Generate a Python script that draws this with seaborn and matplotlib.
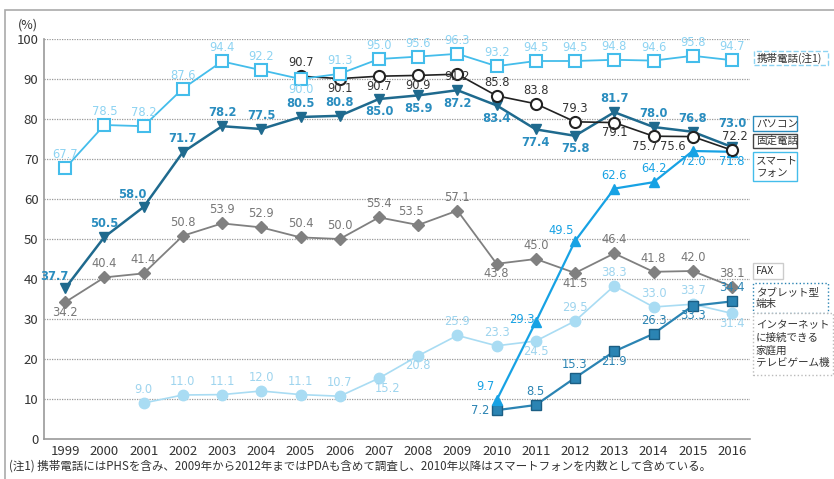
import numpy as np
import pandas as pd
import matplotlib
matplotlib.use("Agg")
import matplotlib.pyplot as plt
import seaborn as sns
from matplotlib.patches import Rectangle

# ---------------- data ----------------
years = list(range(1999, 2017))
mobile = [67.7, 78.5, 78.2, 87.6, 94.4, 92.2, 90.0, 91.3, 95.0, 95.6, 96.3, 93.2, 94.5, 94.5, 94.8, 94.6, 95.8, 94.7]
pc = [37.7, 50.5, 58.0, 71.7, 78.2, 77.5, 80.5, 80.8, 85.0, 85.9, 87.2, 83.4, 77.4, 75.8, 81.7, 78.0, 76.8, 73.0]
fixed_years = list(range(2005, 2017))
fixed = [90.7, 90.1, 90.7, 90.9, 91.2, 85.8, 83.8, 79.3, 79.1, 75.7, 75.6, 72.2]
smart_years = list(range(2010, 2017))
smart = [9.7, 29.3, 49.5, 62.6, 64.2, 72.0, 71.8]
fax = [34.2, 40.4, 41.4, 50.8, 53.9, 52.9, 50.4, 50.0, 55.4, 53.5, 57.1, 43.8, 45.0, 41.5, 46.4, 41.8, 42.0, 38.1]
tablet_years = list(range(2010, 2017))
tablet = [7.2, 8.5, 15.3, 21.9, 26.3, 33.3, 34.4]
game_years = list(range(2001, 2017))
game = [9.0, 11.0, 11.1, 12.0, 11.1, 10.7, 15.2, 20.8, 25.9, 23.3, 24.5, 29.5, 38.3, 33.0, 33.7, 31.4]

series_names = ["携帯電話(注1)", "パソコン", "固定電話", "スマート\nフォン", "FAX", "タブレット型\n端末",
                "インターネット\nに接続できる\n家庭用\nテレビゲーム機"]
footnote = "(注1) 携帯電話にはPHSを含み、2009年から2012年まではPDAも含めて調査し、2010年以降はスマートフォンを内数として含めている。"

U = (0, 5)
D = (0, -12)

sns.set_theme(style="white")
plt.rcParams['font.family'] = ['Noto Sans CJK JP', 'DejaVu Sans']

W, H = 834, 479
fig = plt.figure(figsize=(W / 100, H / 100), dpi=100)
ax = fig.add_axes([44 / W, 1 - 439 / H, (750 - 44) / W, 400 / H])

def draw(xs, ys, color, marker, ms, mfc, mec, mew, lw, lcolor, offsets, bold=False, fs=8.3, zorder=3):
    df = pd.DataFrame({"year": xs, "value": ys})
    sns.lineplot(data=df, x="year", y="value", ax=ax, color=color, lw=lw, marker=marker,
                 markersize=ms, markerfacecolor=mfc, markeredgecolor=mec, markeredgewidth=mew,
                 zorder=zorder, clip_on=False)
    for x, y, off in zip(xs, ys, offsets):
        ax.annotate(f"{y:.1f}", (x, y), xytext=off, textcoords="offset points",
                    ha="center", va="bottom", fontsize=fs, color=lcolor,
                    fontweight="bold" if bold else "normal", zorder=6,
                    family=['DejaVu Sans'])

c_mobile = "#44BDEB"
c_pc = "#1F6A8E"
c_pc_lab = "#2A8DBF"
c_fixed = "#222222"
c_smart = "#17A2E4"
c_fax = "#808080"
c_tab = "#2B84B3"
c_game = "#A9DCF3"

game_off = [U] * 6 + [(6, -12), D, U, U, D, U, U, U, U, D]
draw(game_years, game, c_game, "o", 7.5, c_game, c_game, 1, 1.2, "#9ED4EE", game_off, zorder=2)
fax_off = [D, U, U, U, U, U, U, U, U, (-5, 5), U, D, U, D, U, U, U, U]
draw(years, fax, c_fax, "D", 6, c_fax, c_fax, 1, 1.3, "#777777", fax_off)
tab_off = [(-12, -5), U, U, D, U, D, U]
draw(tablet_years, tablet, c_tab, "s", 6.5, c_tab, "#1B5E84", 1, 1.6, c_tab, tab_off)
smart_off = [(-8, 5), (-10, -3), (-10, 3), U, U, D, D]
draw(smart_years, smart, c_smart, "^", 7.5, c_smart, c_smart, 1, 1.6, c_smart, smart_off)
fixed_off = [U, D, D, D, (0, -6), U, U, U, D, (-6, -12), (-14, -12), (2, 5)]
draw(fixed_years, fixed, c_fixed, "o", 8, "white", c_fixed, 1.5, 1.2, "#333333", fixed_off, zorder=4)
pc_off = [(-8, 4), U, (-8, 4), U, U, U, U, U, (0, -14), (0, -14), (0, -14), (0, -14), (0, -14), (0, -14), U, U, U, (0, 12)]
draw(years, pc, c_pc, "v", 7.5, c_pc, c_pc, 1, 1.8, c_pc_lab, pc_off, bold=True)
mob_off = [U] * 6 + [D] + [U] * 11
draw(years, mobile, c_mobile, "s", 8, "white", c_mobile, 1.5, 1.3, "#8DD3F2", mob_off, zorder=5)

ax.set_xlim(1998.46, 2016.46)
ax.set_ylim(0, 100)
ax.set_xticks(years)
ax.set_xticklabels([str(y) for y in years])
ax.set_yticks(range(0, 101, 10))
ax.tick_params(axis="both", labelsize=9.5, colors="#333333", length=0, pad=4)
ax.set_xlabel("")
ax.set_ylabel("")
for yv in range(10, 101, 10):
    ax.axhline(yv, color="#999999", lw=0.9, ls=(0, (1, 1)), zorder=0)
for s in ["top", "right"]:
    ax.spines[s].set_visible(False)
for s in ["left", "bottom"]:
    ax.spines[s].set_color("#999999")
    ax.spines[s].set_linewidth(1.2)
ax.patch.set_alpha(0)

fig.text(18 / W, 1 - 25 / H, "(%)", fontsize=9, color="#333333", va="center", ha="left")

fig.patches.append(Rectangle((5 / W, -0.1), 1.0, 1 - 10 / H + 0.1, transform=fig.transFigure,
                             fill=False, ec="#AAAAAA", lw=1.2))

boxes = [(754, 51, 828, 65), (753, 116, 797, 131), (753, 134, 797, 148), (753, 152, 797, 181),
         (753, 263, 783, 279), (753, 283, 828, 313), (753, 313, 833, 375)]
box_styles = [("#8DD3F2", "--"), ("#2A8DBF", "-"), ("#444444", "-"), ("#44BDEB", "-"),
              ("#CCCCCC", "-"), ("#2B84B3", ":"), ("#BBBBBB", ":")]
for name, (x0, y0, x1, y1), (ec, ls) in zip(series_names, boxes, box_styles):
    fig.patches.append(Rectangle((x0 / W, 1 - y1 / H), (x1 - x0) / W, (y1 - y0) / H,
                                 transform=fig.transFigure, fill=True, fc="white",
                                 ec=ec, ls=ls, lw=1))
    fig.text((x0 + 3) / W, 1 - (y0 + y1) / 2 / H, name, fontsize=7.6, color="#333333",
             va="center", ha="left", linespacing=1.3)

fig.text(9 / W, 1 - 466 / H, footnote, fontsize=8.3, color="#333333", va="center", ha="left")

fig.savefig("out.png", dpi=100)
